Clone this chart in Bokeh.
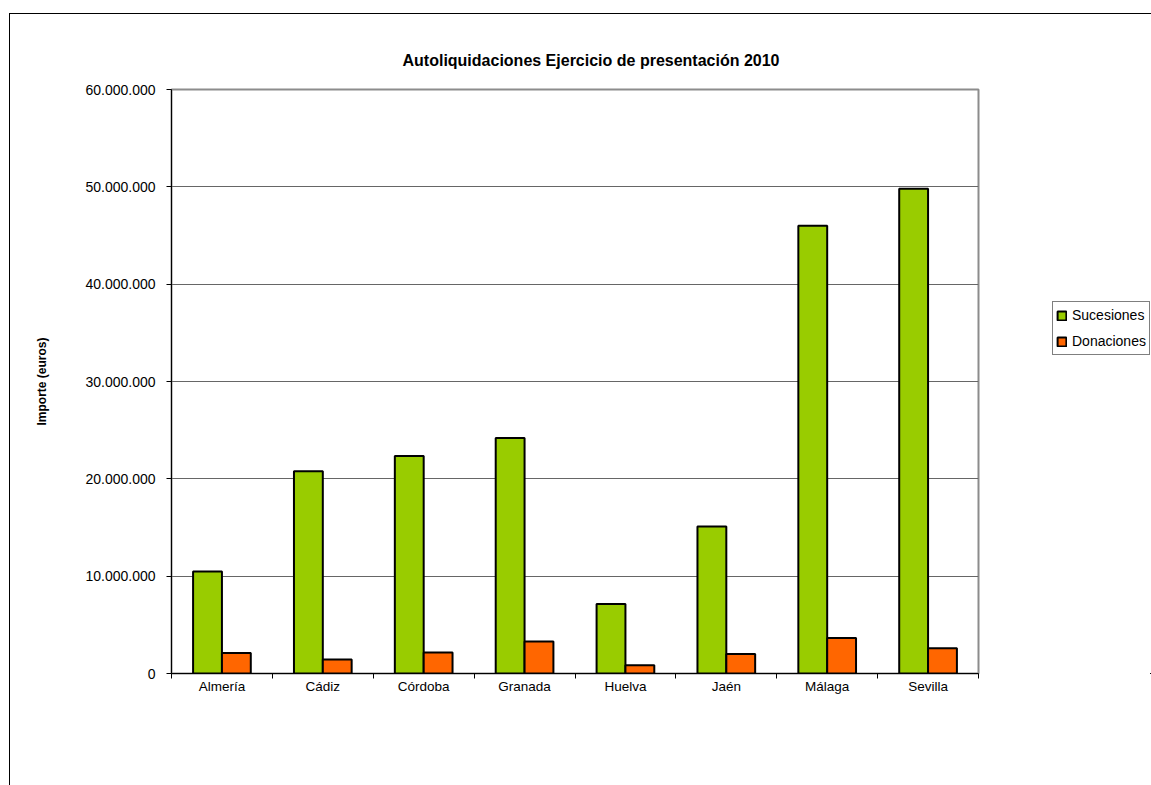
import numpy as np
from bokeh.plotting import figure
from bokeh.layouts import row
from bokeh.models import (ColumnDataSource, FixedTicker, Legend, LegendItem, Title)
from bokeh.transform import dodge
from bokeh.embed import file_html
from bokeh.resources import INLINE

categories = ["Almería", "Cádiz", "Córdoba", "Granada", "Huelva", "Jaén", "Málaga", "Sevilla"]
sucesiones = [10_470_000, 20_780_000, 22_350_000, 24_200_000, 7_150_000, 15_100_000, 46_000_000, 49_800_000]
donaciones = [2_100_000, 1_450_000, 2_150_000, 3_300_000, 850_000, 2_000_000, 3_650_000, 2_600_000]
y_ticks = [0, 10_000_000, 20_000_000, 30_000_000, 40_000_000, 50_000_000, 60_000_000]
y_tick_labels = ["0", "10.000.000", "20.000.000", "30.000.000", "40.000.000", "50.000.000", "60.000.000"]
series_names = ["Sucesiones", "Donaciones"]
title_text = "Autoliquidaciones Ejercicio de presentación 2010"
y_label = "Importe (euros)"

FONT = "Liberation Sans"
GREEN = "#99CC00"
ORANGE = "#FF6600"
H = 785

pos = list(np.arange(len(categories)) + 0.5)
source = ColumnDataSource(dict(pos=pos, cat=categories, suc=sucesiones, don=donaciones))

p = figure(width=1051, height=H, x_range=(0, len(categories)), y_range=(0, 60_000_000),
           output_backend="svg", toolbar_location=None,
           min_border_left=171, min_border_right=73, min_border_top=89, min_border_bottom=112)
p.background_fill_color = "white"
p.border_fill_alpha = 0
p.outline_line_color = "#8c8c8c"
p.outline_line_width = 2
# outer chart border (left and top edges visible, the rest runs off the page)
p.styles = {
    "background-color": "white",
    "background-image": "linear-gradient(#000, #000), linear-gradient(#000, #000)",
    "background-size": "1px 100%, 100% 1px",
    "background-position": "9px 13px, 9px 13px",
    "background-repeat": "no-repeat",
}

bw = 0.286
bar_suc = dict(fill_color=GREEN, line_color="black", line_width=2)
bar_don = dict(fill_color=ORANGE, line_color="black", line_width=2)
r1 = p.vbar(x=dodge("pos", -bw / 2), top="suc", width=bw, source=source, **bar_suc)
r2 = p.vbar(x=dodge("pos", bw / 2), top="don", width=bw, source=source, **bar_don)

# axes
p.xgrid.visible = False
p.ygrid.grid_line_color = "#666666"
p.ygrid.grid_line_width = 1
p.ygrid.ticker = FixedTicker(ticks=y_ticks)

p.yaxis.ticker = FixedTicker(ticks=y_ticks)
p.yaxis.major_label_overrides = {t: l for t, l in zip(y_ticks, y_tick_labels)}
p.yaxis.major_tick_out = 5
p.yaxis.major_tick_in = 0
p.yaxis.minor_tick_line_color = None
p.yaxis.axis_line_color = "black"
p.yaxis.major_tick_line_color = "black"
p.yaxis.major_label_text_font = FONT
p.yaxis.major_label_text_font_size = "14px"
p.yaxis.major_label_text_color = "black"
p.yaxis.major_label_standoff = 11
p.yaxis.axis_label = y_label
p.yaxis.axis_label_text_font = FONT
p.yaxis.axis_label_text_font_size = "12px"
p.yaxis.axis_label_text_font_style = "bold"
p.yaxis.axis_label_text_color = "black"
p.yaxis.axis_label_standoff = 33

p.xaxis.ticker = FixedTicker(ticks=pos, minor_ticks=list(range(len(categories) + 1)))
p.xaxis.major_label_overrides = {float(x): c for x, c in zip(pos, categories)}
p.xaxis.major_tick_out = 0
p.xaxis.major_tick_in = 0
p.xaxis.minor_tick_out = 5
p.xaxis.minor_tick_in = 0
p.xaxis.minor_tick_line_color = "black"
p.xaxis.axis_line_color = "black"
p.xaxis.major_label_text_font = FONT
p.xaxis.major_label_text_font_size = "13.5px"
p.xaxis.major_label_text_color = "black"
p.xaxis.major_label_standoff = 0

# title
t = Title(text=title_text, align="left", offset=231, text_font=FONT,
          text_font_size="16px", text_font_style="bold", text_color="black", standoff=42)
p.add_layout(t, "above")

# legend strip at the right edge (runs off the page like the reference)
q = figure(width=100, height=H, x_range=(-20, -19), y_range=(1e9, 2e9),
           output_backend="svg", toolbar_location=None,
           x_axis_type=None, y_axis_type=None,
           min_border=0, min_border_left=0, min_border_right=0,
           min_border_top=89, min_border_bottom=112)
q.grid.visible = False
q.outline_line_color = None
q.background_fill_alpha = 0
q.border_fill_alpha = 0
q.styles = {
    "background-color": "white",
    "background-image": "linear-gradient(#000, #000)",
    "background-size": "100% 1px",
    "background-position": "0px 13px",
    "background-repeat": "no-repeat",
}
# same bars, kept out of view, only to supply the legend swatches
k1 = q.vbar(x=dodge("pos", -bw / 2), top="suc", width=bw, source=source, **bar_suc)
k2 = q.vbar(x=dodge("pos", bw / 2), top="don", width=bw, source=source, **bar_don)

legend = Legend(items=[LegendItem(label=series_names[0], renderers=[k1]),
                       LegendItem(label=series_names[1], renderers=[k2])],
                location=(1, 318))
legend.label_text_font = FONT
legend.label_text_font_size = "14px"
legend.label_text_color = "black"
legend.glyph_width = 11
legend.glyph_height = 11
legend.label_height = 20
legend.label_standoff = 5
legend.padding = 3
legend.spacing = 6
legend.margin = 0
legend.border_line_color = "black"
legend.border_line_width = 1
legend.background_fill_alpha = 1
q.add_layout(legend, "center")

layout = row(p, q, spacing=0)
open("out.html", "w").write(file_html(layout, INLINE))
